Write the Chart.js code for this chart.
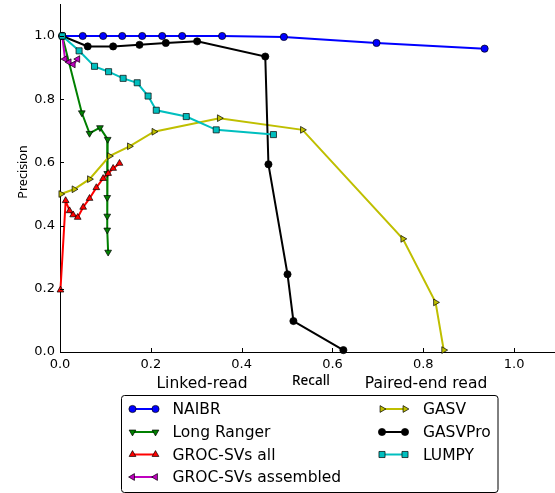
<!DOCTYPE html>
<html lang="en">
<head>
<meta charset="UTF-8">
<title>Precision / Recall</title>
<script src="https://cdn.jsdelivr.net/npm/chart.js@4/dist/chart.umd.min.js"></script>
<style>
  * { margin: 0; padding: 0; box-sizing: border-box; }
  html, body { width: 555px; height: 493px; background: #fff; overflow: hidden; }
  canvas { display: block; }
</style>
</head>
<body>
<canvas id="pr" width="555" height="493"></canvas>
<script>
// ─── data ─────────────────────────────────────────────────────────────────────
const xTicks = [0.0, 0.2, 0.4, 0.6, 0.8, 1.0];
const yTicks = [0.0, 0.2, 0.4, 0.6, 0.8, 1.0];

const naibrRecall    = [0.005, 0.050, 0.095, 0.137, 0.181, 0.225, 0.269, 0.357, 0.493, 0.697, 0.935];
const naibrPrecision = [1.000, 1.000, 1.000, 1.000, 1.000, 1.000, 1.000, 1.000, 0.997, 0.978, 0.960];

const longRangerRecall    = [0.005, 0.048, 0.065, 0.088, 0.105, 0.104, 0.104, 0.104, 0.104, 0.106];
const longRangerPrecision = [1.000, 0.757, 0.692, 0.710, 0.673, 0.565, 0.489, 0.430, 0.386, 0.316];

const grocAllRecall    = [0.001, 0.0125, 0.021, 0.029, 0.039, 0.051, 0.065, 0.080, 0.095, 0.106, 0.117, 0.131];
const grocAllPrecision = [0.196, 0.479, 0.447, 0.434, 0.426, 0.458, 0.486, 0.520, 0.549, 0.565, 0.581, 0.597];

const grocAsmRecall    = [0.005, 0.011, 0.020, 0.029, 0.039];
const grocAsmPrecision = [1.000, 0.927, 0.917, 0.910, 0.927];

const gasvRecall    = [0.002, 0.031, 0.065, 0.109, 0.153, 0.207, 0.351, 0.534, 0.755, 0.827, 0.845];
const gasvPrecision = [0.500, 0.515, 0.547, 0.620, 0.651, 0.697, 0.740, 0.703, 0.358, 0.157, 0.006];

const gasvProRecall    = [0.005, 0.061, 0.117, 0.175, 0.233, 0.302, 0.452, 0.459, 0.501, 0.514, 0.624];
const gasvProPrecision = [1.000, 0.967, 0.967, 0.972, 0.978, 0.983, 0.935, 0.594, 0.246, 0.098, 0.006];

const lumpyRecall    = [0.005, 0.042, 0.076, 0.107, 0.139, 0.170, 0.194, 0.212, 0.278, 0.344, 0.470];
const lumpyPrecision = [1.000, 0.953, 0.904, 0.887, 0.866, 0.852, 0.810, 0.765, 0.745, 0.703, 0.688];

const zip = (xs, ys) => xs.map((x, i) => ({ x, y: ys[i] }));

// name, points, colour, marker, marker rotation, marker radius
const series = [
  ['NAIBR',               zip(naibrRecall, naibrPrecision),           '#0000ff', 'circle',   0,   3.6],
  ['Long Ranger',         zip(longRangerRecall, longRangerPrecision), '#008000', 'triangle', 180, 3.9],
  ['GROC-SVs all',        zip(grocAllRecall, grocAllPrecision),       '#ff0000', 'triangle', 0,   3.9],
  ['GROC-SVs assembled',  zip(grocAsmRecall, grocAsmPrecision),       '#bf00bf', 'triangle', 270, 3.9],
  ['GASV',                zip(gasvRecall, gasvPrecision),             '#bfbf00', 'triangle', 90,  3.9],
  ['GASVPro',             zip(gasvProRecall, gasvProPrecision),       '#000000', 'circle',   0,   3.6],
  ['LUMPY',               zip(lumpyRecall, lumpyPrecision),           '#00bfbf', 'rect',     0,   4.3],
];

const datasets = series.map(([label, data, color, style, rot, r], i) => ({
  label,
  data,
  borderColor: color,
  backgroundColor: color,
  borderWidth: 2,
  pointStyle: style,
  pointRotation: rot,
  pointRadius: r,
  pointBackgroundColor: color,
  pointBorderColor: '#000',
  pointBorderWidth: 0.7,
  showLine: true,
  tension: 0,
  clip: false,
  order: series.length - i,   // later series drawn on top
}));

// ─── inward tick marks, axis texts and the framed legend ──────────────────────
const decorations = {
  id: 'decorations',
  afterDraw(chart) {
    const { ctx, chartArea: a, scales: { x, y } } = chart;
    ctx.save();

    // tick marks pointing into the plot
    ctx.strokeStyle = '#000';
    ctx.lineWidth = 1;
    ctx.beginPath();
    xTicks.forEach(v => {
      const px = Math.round(x.getPixelForValue(v)) + 0.5;
      ctx.moveTo(px, a.bottom); ctx.lineTo(px, a.bottom - 4);
    });
    yTicks.forEach(v => {
      const py = Math.round(y.getPixelForValue(v)) + 0.5;
      ctx.moveTo(a.left, py); ctx.lineTo(a.left + 4, py);
    });
    ctx.stroke();

    ctx.fillStyle = '#000';
    ctx.textAlign = 'center';
    ctx.textBaseline = 'middle';

    ctx.save();
    ctx.translate(23, 172);
    ctx.rotate(-Math.PI / 2);
    ctx.font = '12.5px "Noto Sans"';
    ctx.fillText('Precision', 0, 0);
    ctx.restore();

    ctx.font = '15.5px "DejaVu Sans"';
    ctx.fillText('Linked-read', 202, 384);
    ctx.fillText('Paired-end read', 426, 384);
    ctx.font = '500 13.5px "Noto Sans"';
    ctx.fillText('Recall', 311, 381);

    // legend box
    const bx = 121.5, by = 395.5, bw = 376.5, bh = 97;
    ctx.beginPath();
    ctx.roundRect(bx, by, bw, bh, 3);
    ctx.fillStyle = '#fff';
    ctx.fill();
    ctx.strokeStyle = '#000';
    ctx.lineWidth = 1;
    ctx.stroke();

    const rows = [409, 432, 454.5, 477];
    const cols = [{ m0: 132.5, m1: 155.5, tx: 172.5 }, { m0: 382, m1: 405, tx: 423 }];
    chart.data.datasets.forEach((ds, i) => {
      const col = cols[i < 4 ? 0 : 1];
      const ry = rows[i < 4 ? i : i - 4];
      ctx.strokeStyle = ds.borderColor;
      ctx.lineWidth = 2;
      ctx.beginPath();
      ctx.moveTo(col.m0, ry); ctx.lineTo(col.m1, ry);
      ctx.stroke();
      ctx.fillStyle = ds.pointBackgroundColor;
      ctx.strokeStyle = '#000';
      ctx.lineWidth = ds.pointBorderWidth;
      [col.m0, col.m1].forEach(mx => {
        Chart.helpers.drawPoint(ctx, {
          pointStyle: ds.pointStyle,
          rotation: ds.pointRotation,
          radius: ds.pointRadius,
          borderWidth: ds.pointBorderWidth,
        }, mx, ry);
      });
      ctx.fillStyle = '#000';
      ctx.textAlign = 'left';
      ctx.font = '15.5px "DejaVu Sans"';
      ctx.fillText(ds.label, col.tx, ry + 1);
    });

    ctx.restore();
  }
};

// ─── chart ────────────────────────────────────────────────────────────────────
new Chart(document.getElementById('pr'), {
  type: 'scatter',
  data: { datasets },
  plugins: [decorations],
  options: {
    responsive: false,
    animation: false,
    layout: { autoPadding: false, padding: { top: 4.4, right: 0, left: 0, bottom: 0 } },
    plugins: { legend: { display: false }, tooltip: { enabled: false } },
    scales: {
      x: {
        type: 'linear',
        min: 0,
        max: 1.09,
        afterBuildTicks: s => { s.ticks = xTicks.map(value => ({ value })); },
        afterFit: s => { s.height = 141; s.paddingLeft = 0; s.paddingRight = 0; },
        grid: { display: false, drawTicks: false },
        border: { display: true, color: '#000', width: 1 },
        ticks: {
          color: '#000',
          padding: 5,
          maxRotation: 0,
          font: { family: 'DejaVu Sans', size: 13 },
          callback: v => v.toFixed(1),
        },
      },
      y: {
        type: 'linear',
        min: 0,
        max: 1.1,
        afterBuildTicks: s => { s.ticks = yTicks.map(value => ({ value })); },
        afterFit: s => { s.width = 60; s.paddingTop = 0; s.paddingBottom = 0; },
        grid: { display: false, drawTicks: false },
        border: { display: true, color: '#000', width: 1 },
        ticks: {
          color: '#000',
          padding: 5,
          font: { family: 'DejaVu Sans', size: 13 },
          callback: v => v.toFixed(1),
        },
      },
    },
  },
});
</script>
</body>
</html>
